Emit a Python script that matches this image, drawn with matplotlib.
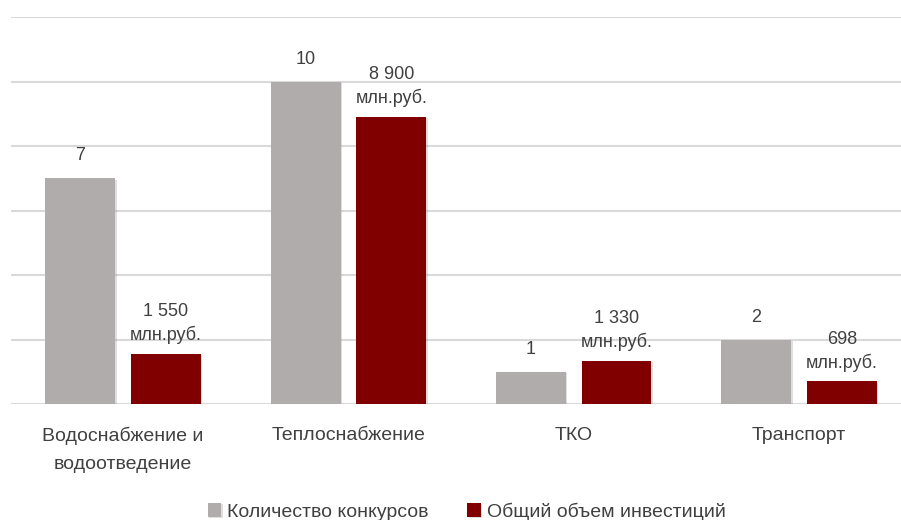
import matplotlib.pyplot as plt
import matplotlib.patheffects as pe
import numpy as np

# -----------------------------
# Data
# -----------------------------
categories = ["Водоснабжение и\nводоотведение", "Теплоснабжение", "ТКО", "Транспорт"]
contests = [7, 10, 1, 2]
investments = [1550, 8900, 1330, 698]
series_names = ["Количество конкурсов", "Общий объем инвестиций"]

GREY = "#AFACAB"
RED = "#800000"
TEXT = "#404040"

plt.rcParams['font.family'] = ['Liberation Sans', 'DejaVu Sans']


def fmt_money(v):
    return f"{v:,}".replace(",", " ") + "\nмлн.руб."


def plot():
    fig = plt.figure(figsize=(9.01, 5.2), dpi=100)
    left = 10.5 / 901
    ax = fig.add_axes([left, 116 / 520, 1 - left, (404 - 17) / 520])
    ax2 = ax.twinx()

    x = np.arange(len(categories))
    w = 0.31
    off = 0.19
    shadow = [pe.SimplePatchShadow(offset=(1, -1), alpha=0.25, shadow_rgbFace="#808080"), pe.Normal()]

    b1 = ax.bar(x - off, contests, w, color=GREY, zorder=3, label=series_names[0])
    b2 = ax2.bar(x + off, investments, w, color=RED, zorder=3, label=series_names[1])
    for b in list(b1) + list(b2):
        b.set_path_effects(shadow)

    ax.set_ylim(0, 12)
    ax2.set_ylim(0, 12000)
    ax.set_xlim(-0.5, -0.5 + (901 - 10.5) / 225.3)

    ax.set_yticks(np.arange(0, 13, 2))
    ax.yaxis.grid(True, color="#D9D9D9", linewidth=1.5, zorder=0)
    ax.set_axisbelow(True)
    ax.tick_params(axis="y", left=False, labelleft=False)
    ax2.set_yticks([])
    for a in (ax, ax2):
        for s in a.spines.values():
            s.set_visible(False)

    ax.set_xticks(x)
    ax.set_xticklabels(categories, fontsize=14, color=TEXT, linespacing=1.8)
    ax.tick_params(axis="x", bottom=False, pad=13)

    for xi, v in zip(x, contests):
        ax.annotate(str(v), (xi - off, v), xytext=(0, 10), textcoords="offset points",
                    ha="center", va="bottom", fontsize=13, color=TEXT)
    for xi, v in zip(x, investments):
        ax2.annotate(fmt_money(v), (xi + off, v), xytext=(0, 7), textcoords="offset points",
                     ha="center", va="bottom", fontsize=13, color=TEXT, linespacing=1.4)

    handles = [b1, b2]
    fig.legend(handles, series_names, loc="lower center", bbox_to_anchor=(0.518, -0.035),
               ncol=2, frameon=False, fontsize=14, labelcolor=TEXT,
               handlelength=0.7, handleheight=0.7, handletextpad=0.3, columnspacing=2.0)

    fig.savefig("out.png", dpi=100)


plot()
